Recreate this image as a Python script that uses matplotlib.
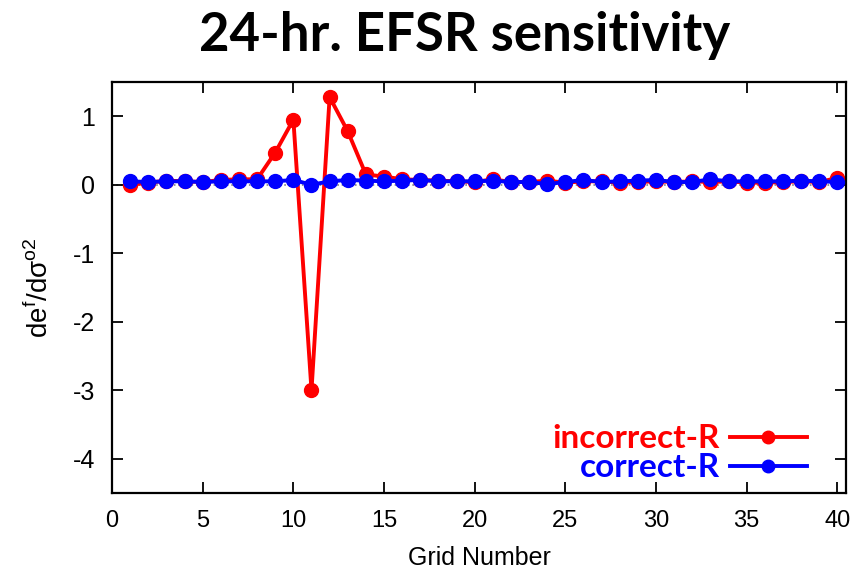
import matplotlib
matplotlib.use("Agg")
import matplotlib.pyplot as plt
import numpy as np

plt.rcParams["axes.unicode_minus"] = False

grid = list(range(1, 41))
incorrect_r = [0.00, 0.03, 0.06, 0.05, 0.04, 0.07, 0.08, 0.08, 0.47, 0.95,
               -3.00, 1.28, 0.78, 0.15, 0.12, 0.08, 0.07, 0.06, 0.05, 0.04,
               0.08, 0.04, 0.04, 0.06, 0.03, 0.05, 0.05, 0.03, 0.04, 0.05,
               0.04, 0.05, 0.04, 0.05, 0.03, 0.03, 0.04, 0.05, 0.04, 0.10]
correct_r = [0.05, 0.04, 0.05, 0.05, 0.04, 0.05, 0.05, 0.05, 0.05, 0.07,
             0.00, 0.05, 0.07, 0.06, 0.05, 0.06, 0.07, 0.05, 0.05, 0.05,
             0.06, 0.04, 0.04, 0.01, 0.04, 0.07, 0.04, 0.05, 0.06, 0.07,
             0.04, 0.04, 0.08, 0.05, 0.05, 0.05, 0.05, 0.06, 0.05, 0.04]
x_ticks = [0, 5, 10, 15, 20, 25, 30, 35, 40]
y_ticks = [-4, -3, -2, -1, 0, 1]

fig = plt.figure(figsize=(8.5, 5.8), dpi=100)
ax = fig.add_axes([0.1318, 0.15, 0.864, 0.7086])

ax.axhline(0, color="gray", ls=":", lw=1.2, zorder=1)
ax.plot(grid, incorrect_r, color="#ff0000", lw=2.8, marker="o", ms=10,
        label="incorrect-R", zorder=2)
ax.plot(grid, correct_r, color="#0000ff", lw=2.8, marker="o", ms=10,
        label="correct-R", zorder=3)

ax.set_xlim(0, 40.5)
ax.set_ylim(-4.5, 1.5)
ax.set_xticks(x_ticks)
ax.set_yticks(y_ticks)
ax.tick_params(direction="in", length=8, width=1.3, top=True, right=True,
               labelsize=18, pad=12)
ax.tick_params(axis="x", labelsize=17)
for lab in ax.get_xticklabels() + ax.get_yticklabels():
    lab.set_family("Liberation Sans")
for s in ax.spines.values():
    s.set_linewidth(1.6)

ax.set_xlabel("Grid Number", family="Liberation Sans", fontsize=18, labelpad=10)
ax.set_ylabel(r"de$^{\mathregular{f}}$/dσ$^{\mathregular{o2}}$",
              family="Liberation Sans", fontsize=20, labelpad=14)

fig.text(0.547, 0.938, "24-hr. EFSR sensitivity", ha="center", va="center",
         family="Lato", weight="bold", fontsize=38)

leg = ax.legend(loc="lower right", bbox_to_anchor=(0.955, 0.01), frameon=False,
                markerfirst=False, handlelength=2.3, labelcolor="linecolor",
                prop={"family": "Lato", "weight": "bold", "size": 24},
                borderaxespad=0, borderpad=0.2, labelspacing=0.0,
                handletextpad=0.3)
for h in leg.legend_handles:
    h.set_markersize(9)

fig.savefig("out.png", dpi=100)
